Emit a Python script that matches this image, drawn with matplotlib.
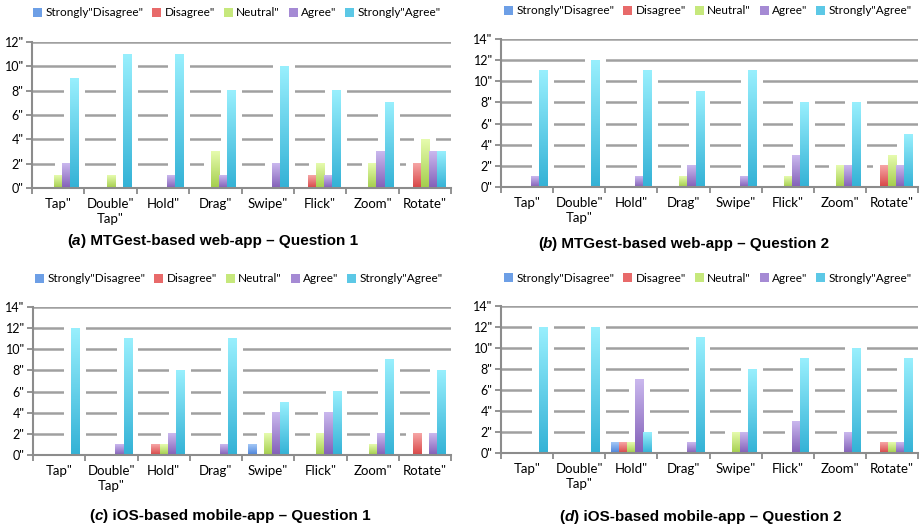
import numpy as np
import matplotlib.pyplot as plt
from matplotlib.colors import LinearSegmentedColormap
from matplotlib.patches import Patch

# gestures and answer levels (labels as in the original figure)
gestures = ['Tap"', 'Double"\nTap"', 'Hold"', 'Drag"', 'Swipe"', 'Flick"', 'Zoom"', 'Rotate"']
levels = ['Strongly"Disagree"', 'Disagree"', 'Neutral"', 'Agree"', 'Strongly"Agree"']

# rows: strongly disagree, disagree, neutral, agree, strongly agree
web_q1 = [[0, 0, 0, 0, 0, 0, 0, 0],
          [0, 0, 0, 0, 0, 1, 0, 2],
          [1, 1, 0, 3, 0, 2, 2, 4],
          [2, 0, 1, 1, 2, 1, 3, 3],
          [9, 11, 11, 8, 10, 8, 7, 3]]
web_q2 = [[0, 0, 0, 0, 0, 0, 0, 0],
          [0, 0, 0, 0, 0, 0, 0, 2],
          [0, 0, 0, 1, 0, 1, 2, 3],
          [1, 0, 1, 2, 1, 3, 2, 2],
          [11, 12, 11, 9, 11, 8, 8, 5]]
ios_q1 = [[0, 0, 0, 0, 1, 0, 0, 0],
          [0, 0, 1, 0, 0, 0, 0, 2],
          [0, 0, 1, 0, 2, 2, 1, 0],
          [0, 1, 2, 1, 4, 4, 2, 2],
          [12, 11, 8, 11, 5, 6, 9, 8]]
ios_q2 = [[0, 0, 1, 0, 0, 0, 0, 0],
          [0, 0, 1, 0, 0, 0, 0, 1],
          [0, 0, 1, 0, 2, 0, 0, 1],
          [0, 0, 7, 1, 2, 3, 2, 1],
          [12, 12, 2, 11, 8, 9, 10, 9]]

captions = [('a', ') MTGest-based web-app \u2013 Question 1'),
            ('b', ') MTGest-based web-app \u2013 Question 2'),
            ('c', ') iOS-based mobile-app \u2013 Question 1'),
            ('d', ') iOS-based mobile-app \u2013 Question 2')]
ymax = [12, 14, 14, 14]

# gradient colours (top, bottom) per level
grad = [('#a4c8f6', '#4a82da'),
        ('#f6a6a6', '#d84646'),
        ('#e6fbae', '#a4ce4c'),
        ('#cab8ee', '#8360b8'),
        ('#98effd', '#34b2d6')]
solid = ['#6d9fe6', '#e86a6a', '#c6e87c', '#a58ad4', '#5cc8e6']

W, H = 922, 528
fig = plt.figure(figsize=(W / 100, H / 100), dpi=100)

# axes boxes in pixels: left, right, top, bottom
boxes = [(32, 451, 42, 188), (501, 918, 39, 187), (33, 451, 307, 455), (501, 918, 306, 453)]
legend_pos = [(237, 13), (708, 11), (239, 279), (708, 278)]
caption_pos = [(67, 245), (538, 248), (89, 520), (559, 521)]

tick_font = 'Lato'
bw = 0.155
x = np.arange(len(gestures))

for k, data in enumerate([web_q1, web_q2, ios_q1, ios_q2]):
    l, r, t, b = boxes[k]
    ax = fig.add_axes([l / W, 1 - b / H, (r - l) / W, (b - t) / H])
    ax.set_axisbelow(True)
    ax.yaxis.grid(True, color='#a0a0a0', lw=1.8)

    for i, vals in enumerate(data):
        vals = np.array(vals, dtype=float)
        xs = x + (i - 2) * bw
        # white halo round each bar (breaks the gridlines like the original)
        halo = np.where(vals > 0, vals + 0.22, 0)
        ax.bar(xs, halo, width=bw + 0.26, color='white', zorder=1)
        bars = ax.bar(xs, vals, width=bw, color=solid[i], zorder=2)
        cmap = LinearSegmentedColormap.from_list('g%d' % i, [grad[i][1], grad[i][0]])
        for p in bars.patches:
            h = p.get_height()
            if h <= 0:
                continue
            x0 = p.get_x()
            ax.imshow(np.linspace(0, 1, 64).reshape(-1, 1), cmap=cmap, origin='lower',
                      extent=[x0, x0 + p.get_width(), 0, h], aspect='auto',
                      interpolation='bicubic', zorder=3)

    ax.set_xlim(-0.5, len(gestures) - 0.5)
    ax.set_ylim(0, ymax[k])
    ax.set_yticks(range(0, ymax[k] + 1, 2))
    ax.set_yticklabels(['%d"' % v for v in range(0, ymax[k] + 1, 2)],
                       fontsize=9, family=tick_font)
    ax.set_xticks(np.arange(-0.5, len(gestures), 1))
    ax.set_xticklabels([])
    ax.set_xticks(x, minor=True)
    ax.set_xticklabels(gestures, minor=True, fontsize=9.5, family=tick_font,
                       linespacing=1.35)
    ax.tick_params(axis='x', which='minor', length=0, pad=7)
    ax.tick_params(axis='x', which='major', length=4, width=1.2, color='#808080')
    ax.tick_params(axis='y', length=4, width=1.2, color='#808080', pad=2)
    for s in ['top', 'right']:
        ax.spines[s].set_visible(False)
    for s in ['left', 'bottom']:
        ax.spines[s].set_color('#8c8c8c')
        ax.spines[s].set_linewidth(1.5)
        ax.spines[s].set_zorder(4)

    handles = [Patch(facecolor=solid[i], edgecolor='none') for i in range(5)]
    lx, ly = legend_pos[k]
    ax.legend(handles, levels, loc='center', bbox_to_anchor=(lx / W, 1 - ly / H),
              bbox_transform=fig.transFigure, ncol=5, frameon=False,
              prop={'family': tick_font, 'size': 8.5}, handlelength=0.75,
              handleheight=0.75, handletextpad=0.3, columnspacing=0.75,
              borderpad=0, borderaxespad=0)

    # caption: "(" + italic letter + rest, all bold
    cx, cy = caption_pos[k]
    letter, rest = captions[k]
    t1 = fig.text(cx / W, 1 - cy / H, '(', fontsize=11, fontweight='bold',
                  family='Liberation Sans', va='baseline')
    t2 = ax.annotate(letter, xy=(1, 0), xycoords=t1, fontsize=11, fontweight='bold',
                     fontstyle='italic', family='Liberation Sans', va='bottom',
                     annotation_clip=False)
    ax.annotate(rest, xy=(1, 0), xycoords=t2, fontsize=11, fontweight='bold',
                family='Liberation Sans', va='bottom', annotation_clip=False)

fig.savefig('out.png', dpi=100)
